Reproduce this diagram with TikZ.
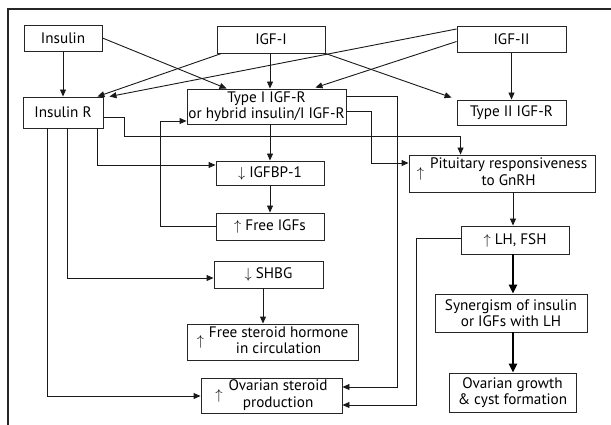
\documentclass[tikz,border=0pt]{standalone}
\usepackage{fontspec}
\setmainfont{PT Sans}
\usetikzlibrary{arrows.meta,calc}
\begin{document}
\begin{tikzpicture}[x=1pt,y=-1pt,
  box/.style={draw=black!85, line width=0.9pt, inner sep=0pt, font=\fontsize{15.2}{16.5}\selectfont, align=center},
  ln/.style={draw=black!90, line width=0.9pt},
  arr/.style={ln, -{Triangle[length=7pt,width=6pt]}},
  tarr/.style={draw=black, line width=2.4pt, -{Triangle[length=9pt,width=8pt]}}]
\useasboundingbox (0,0) rectangle (611,425);
\draw[line width=1.2pt, black!85] (8,425) -- (8,9) -- (611,9);
% nodes
\node[box, minimum width=78pt, minimum height=26pt] (ins) at (63,38) {Insulin};
\node[box, minimum width=108pt, minimum height=27pt] (igf1) at (271,39.5) {IGF-I};
\node[box, minimum width=109pt, minimum height=26pt] (igf2) at (511.5,39.5) {IGF-II};
\node[box, minimum width=80pt, minimum height=31pt] (insr) at (63,112.5) {Insulin R};
\node[box, minimum width=159pt, minimum height=35pt] (t1) at (266.5,106.5) {Type I IGF-R\\or hybrid insulin/I IGF-R};
\node[box, minimum width=109pt, minimum height=25pt] (t2) at (511.5,112.5) {Type II IGF-R};
\node[box, minimum width=108pt, minimum height=24pt] (bp) at (270,173) {$\downarrow$ IGFBP-1};
\node[box, minimum width=108pt, minimum height=27pt] (fi) at (270,226.5) {$\uparrow$ Free IGFs};
\node[box, minimum width=109pt, minimum height=27pt] (sh) at (268.5,274.5) {$\downarrow$ SHBG};
\node[box, minimum width=171pt, minimum height=36pt] (fs) at (272.5,342) {\begin{tabular}{@{}c@{\hspace{5pt}}c@{}}$\uparrow$&\begin{tabular}{@{}c@{}}Free steroid hormone\\in circulation\end{tabular}\end{tabular}};
\node[box, minimum width=141pt, minimum height=35pt] (os) at (271.5,395.5) {\begin{tabular}{@{}c@{\hspace{6pt}}c@{}}$\uparrow$&\begin{tabular}{@{}c@{}}Ovarian steroid\\production\end{tabular}\end{tabular}};
\node[box, minimum width=186pt, minimum height=37pt] (pit) at (502,173.5) {\begin{tabular}{@{}c@{\hspace{6pt}}c@{}}$\uparrow$&\begin{tabular}{@{}c@{}}Pituitary responsiveness\\to GnRH\end{tabular}\end{tabular}};
\node[box, minimum width=108pt, minimum height=28pt] (lh) at (515,240) {$\uparrow$ LH, FSH};
\node[box, minimum width=152pt, minimum height=38pt] (syn) at (511,313) {Synergism of insulin\\or IGFs with LH};
\node[box, minimum width=127pt, minimum height=39pt] (og) at (512.5,392.5) {Ovarian growth\\\& cyst formation};
% connectors from the top row
\draw[arr] (ins.south) -- (insr.north);
\draw[arr] (ins.east) -- ($(t1.north west)+(40,0)$);
\draw[arr] ($(igf1.south west)+(5,0)$) -- ($(insr.north east)+(-6,0)$);
\draw[arr] ($(igf1.south)+(-1,0)$) -- ($(igf1.south |- t1.north)+(-1,0)$);
\draw[arr] (igf1.south east) -- ($(t2.north west)+(-5,-2)$);
\draw[arr] ($(igf2.west)+(0,-10.5)$) -- ($(insr.north east)+(6,0)$);
\draw[arr] ($(igf2.west)+(0,2)$) -- ($(t1.north east)+(-31,-1)$);
\draw[arr] (igf2.south) -- (t2.north);
% receptor outputs
\draw[arr] (bp.north |- t1.south) -- (bp.north);
\draw[arr] (bp.south) -- (fi.north);
\draw[arr] ($(t1.east)+(0,-10.5)$) -| ($(os.east)+(55,-8.5)$) -- ($(os.east)+(0,-8.5)$);
\draw[arr] ($(t1.east)+(0,4.5)$) -| ($(pit.west)+(-37,-10.5)$) -- ($(pit.west)+(0,-10.5)$);
\draw[arr] ($(insr.east)+(0,4.5)$) -- ++(21,0) |- ($(pit.north west)+(52,-18)$) -- ($(pit.north west)+(52,0)$);
\draw[arr] ($(insr.south east)+(-6,0)$) |- ($(bp.west)+(0,-8)$);
\draw[arr] ($(insr.south west)+(45,0)$) |- ($(sh.west)+(0,3.5)$);
\draw[arr] ($(insr.south west)+(25,0)$) |- ($(os.west)+(0,0.5)$);
\draw[arr] (fi.west) -- ++(-55,0) |- ($(t1.west)+(0,14.5)$);
\coordinate (a) at ($(sh.south)+(-5.5,0)$);
\draw[arr] (a) -- (a |- fs.north);
% right column
\coordinate (b) at ($(lh.north)+(-2,0)$);
\draw[arr] (b |- pit.south) -- (b);
\coordinate (c) at ($(lh.south)+(-2,0)$);
\draw[tarr] (c) -- (c |- syn.north);
\draw[tarr] (c |- syn.south) -- (c |- og.north);
\draw[arr] ($(lh.west)+(0,-2)$) -- ++(-44,0) |- ($(os.east)+(0,9.5)$);
\end{tikzpicture}
\end{document}
